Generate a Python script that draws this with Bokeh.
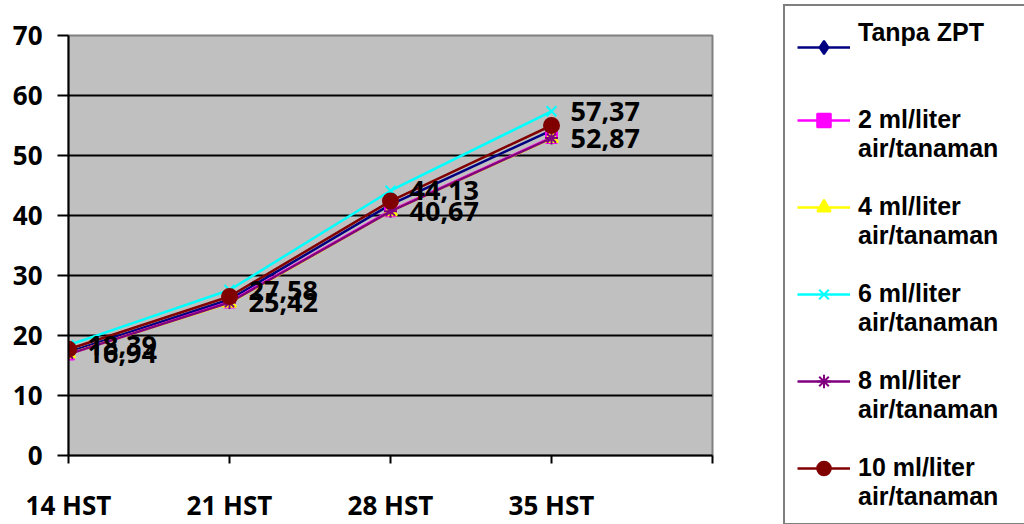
from bokeh.plotting import figure
from bokeh.models import Range1d, FixedTicker, Legend, LegendItem, LabelSet, ColumnDataSource
from bokeh.embed import file_html
from bokeh.resources import INLINE
from bokeh.core.properties import value

categories = ["14 HST", "21 HST", "28 HST", "35 HST"]
tanpa_zpt = [17.2, 26.0, 41.8, 54.2]
ml_2 = [16.9, 25.6, 40.8, 53.0]
ml_4 = [16.94, 25.42, 40.67, 52.87]
ml_6 = [18.39, 27.58, 44.13, 57.37]
ml_8 = [16.9, 25.5, 40.7, 52.9]
ml_10 = [17.7, 26.5, 42.4, 55.0]
y_ticks = [0, 10, 20, 30, 40, 50, 60, 70]
series_names = ["Tanpa ZPT\n ", " \n2 ml/liter\nair/tanaman", " \n4 ml/liter\nair/tanaman",
                " \n6 ml/liter\nair/tanaman", " \n8 ml/liter\nair/tanaman",
                " \n10 ml/liter\nair/tanaman"]

FONT = "Open Sans"
LEGEND_FONT = "Liberation Sans"
xs = list(range(len(categories)))

p = figure(frame_width=644, frame_height=420, output_backend="svg", toolbar_location=None,
           x_range=Range1d(0, 4), y_range=Range1d(0, 70),
           min_border_left=68, min_border_top=35, min_border_right=0, min_border_bottom=69)
p.background_fill_color = "#C0C0C0"
p.border_fill_color = "white"
p.outline_line_color = "#808080"
p.outline_line_width = 2

p.xgrid.visible = False
p.ygrid.ticker = FixedTicker(ticks=y_ticks[1:-1])
p.ygrid.grid_line_color = "black"
p.ygrid.grid_line_width = 2

p.yaxis.ticker = FixedTicker(ticks=y_ticks)
p.xaxis.ticker = FixedTicker(ticks=list(range(len(categories) + 1)))
p.xaxis.major_label_overrides = {i: c for i, c in enumerate(categories)} | {len(categories): ""}
for ax in (p.xaxis, p.yaxis):
    ax.axis_line_color = "black"
    ax.axis_line_width = 2
    ax.major_tick_line_color = "black"
    ax.major_tick_line_width = 2
    ax.major_tick_in = 0
    ax.minor_tick_line_color = None
    ax.major_label_text_font = FONT
    ax.major_label_text_font_style = "bold"
    ax.major_label_text_font_size = "26px"
    ax.major_label_text_color = "black"
p.yaxis.major_tick_out = 11
p.yaxis.major_label_standoff = 15
p.xaxis.major_tick_out = 8
p.xaxis.major_label_standoff = 23

series = [
    (tanpa_zpt, "#000080", "diamond", 16),
    (ml_2, "#FF00FF", "square", 11),
    (ml_4, "#FFFF00", "triangle", 13),
    (ml_6, "#00FFFF", "x", 14),
    (ml_8, "#800080", "asterisk", 13),
    (ml_10, "#800000", "circle", 15),
]
items = []
for (vals, color, marker, size), name in zip(series, series_names):
    src = ColumnDataSource(dict(x=xs, y=vals))
    r1 = p.line("x", "y", source=src, line_color=color, line_width=2.5)
    r2 = p.scatter("x", "y", source=src, marker=marker, size=size,
                   fill_color=color, line_color=color, line_width=2)
    items.append(LegendItem(label=name, renderers=[r1, r2]))

for vals in (ml_6, ml_4):
    lsrc = ColumnDataSource(dict(x=xs, y=vals, t=[f"{v:.2f}".replace(".", ",") for v in vals]))
    p.add_layout(LabelSet(x="x", y="y", text="t", source=lsrc, x_offset=19, y_offset=0,
                          text_baseline="middle", text_align="left",
                          text_font=value(FONT), text_font_style="bold",
                          text_font_size="27px", text_color="black"))

legend = Legend(items=items, location=(71, -70), orientation="vertical",
                label_text_font=LEGEND_FONT, label_text_font_style="bold",
                label_text_font_size="25px", label_text_color="black",
                glyph_width=53, glyph_height=34, label_standoff=8, label_width=200,
                padding=12, spacing=-2, margin=0,
                border_line_color="black", border_line_width=2,
                background_fill_color="white", background_fill_alpha=1)
p.add_layout(legend, "right")

open("out.html", "w").write(file_html(p, INLINE))
